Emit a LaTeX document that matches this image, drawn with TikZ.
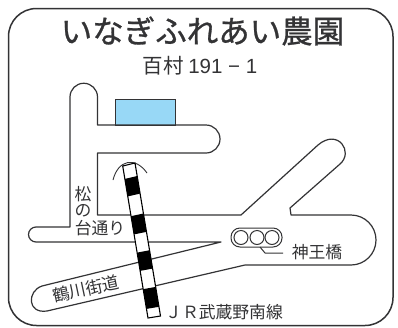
\documentclass[tikz,border=0pt]{standalone}
\usetikzlibrary{calc}
\usepackage{fontspec}
\setmainfont{Noto Sans CJK JP}
\newfontfamily\heavyjp[FakeBold=0.9]{Noto Sans CJK JP}
\newfontfamily\numfont{Liberation Sans}
\definecolor{ink}{HTML}{333335}
\definecolor{pond}{HTML}{98D8F6}
\tikzset{x=1pt,y=-1pt,
 road/.style={draw=ink,line width=1.2pt,line join=round},
 lbl/.style={text=ink,inner sep=0pt,font=\fontsize{16.8}{16.8}\selectfont}}
\begin{document}
\begin{tikzpicture}
\useasboundingbox (0,0) rectangle (398,327);
\fill[white] (0,0) rectangle (398,327);
\draw[draw=ink,line width=1.5pt,rounded corners=28pt] (8.5,8.5) rectangle (393,325.5);
\node[draw=ink,fill=pond,line width=1.1pt,minimum width=60pt,minimum height=26pt,inner sep=0pt,anchor=north west] (farm) at (114.5,99) {};
\draw[road] (97.5,125) -- (97.5,97) arc[start angle=0,end angle=-180,radius=13.75] -- (70,227) -- (36,227) arc[start angle=-90,end angle=-270,radius=7.5] -- (221,242) -- (42,286) .. controls (27,291) and (27,314) .. (47,311) -- (245,265) -- (351,265) arc[start angle=90,end angle=-90,radius=25] -- (291,215) -- (290,208) -- (340,164) .. controls (354,152) and (338,128) .. (318,145) -- (241,215) -- (97.5,215) -- (97.5,153) -- (206,153) arc[start angle=90,end angle=-90,radius=14] -- cycle;
\draw[road,line width=.9pt] (113,180) .. controls (118,160) and (135,156) .. (147,173);
\draw[draw=black,line width=1.1pt,fill=white] (122.7,166) -- (135,163) -- (160.5,316) -- (148,318) -- cycle;
\foreach \a/\b in {0.085/0.2,0.33/0.45,0.57/0.69,0.81/0.94}{
 \fill[black] ($(122.7,166)!\a!(148,318)$) -- ($(135,163)!\a!(160.5,316)$) -- ($(135,163)!\b!(160.5,316)$) -- ($(122.7,166)!\b!(148,318)$) -- cycle;}
\node[draw=ink,line width=1pt,rounded corners=9pt,minimum width=51pt,minimum height=19pt,inner sep=0pt] (bridge) at (256.5,237.5) {};
\foreach \x in {241,257,272}{\draw[ink,line width=1pt] (\x,237.5) circle (7);}
\draw[ink,line width=1pt] (260,247) -- (265,253) -- (283,253);
\node[lbl,font=\fontsize{31.5}{31.5}\heavyjp] (title) at (202.5,31) {いなぎふれあい農園};
\node[lbl,font=\fontsize{20.5}{20.5}\selectfont] (addr) at (200,66) {百村 {\numfont 191 − 1}};
\node[lbl] (m1) at (83,194) {松};
\node[lbl] (m2) at (83,211) {の};
\node[lbl] (m3) at (100,228) {台通り};
\node[lbl] (b) at (317,252) {神王橋};
\node[lbl,font=\fontsize{17}{17}\selectfont,rotate=12] (t) at (86,289) {鶴川街道};
\node[lbl] (j) at (224,312) {ＪＲ武蔵野南線};
\end{tikzpicture}
\end{document}
